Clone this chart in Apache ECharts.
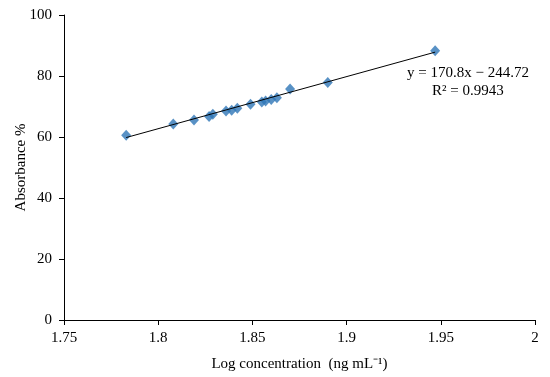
<!DOCTYPE html>
<html>
<head>
<meta charset="utf-8">
<script src="https://cdn.jsdelivr.net/npm/echarts@6/dist/echarts.min.js"></script>
<style>html,body{margin:0;padding:0;background:#fff}#c{width:550px;height:377px}</style>
</head>
<body>
<div id="c"></div>
<script>
var logConc = [1.783, 1.808, 1.819, 1.827, 1.829, 1.836, 1.839, 1.842, 1.849, 1.855, 1.857, 1.860, 1.863, 1.870, 1.890, 1.947];
var absorbance = [60.6, 64.3, 65.6, 66.7, 67.5, 68.5, 68.8, 69.4, 70.7, 71.5, 71.8, 72.3, 72.9, 75.7, 77.9, 88.3];
var slope = 170.8, intercept = -244.72, r2 = 0.9943;
var xTicks = [1.75, 1.8, 1.85, 1.9, 1.95, 2];
var yTicks = [0, 20, 40, 60, 80, 100];

var x0 = Math.min.apply(null, logConc), x1 = Math.max.apply(null, logConc);
var trend = [[x0, slope * x0 + intercept], [x1, slope * x1 + intercept]];
var pts = logConc.map(function (x, i) { return [x, absorbance[i]]; });

var font = '"Liberation Serif","Times New Roman",serif';
var chart = echarts.init(document.getElementById('c'));
chart.setOption({
  animation: false,
  backgroundColor: '#fff',
  grid: { left: 64, right: 15, top: 15, bottom: 57, containLabel: false, outerBoundsMode: 'none' },
  xAxis: {
    type: 'value', min: xTicks[0], max: xTicks[xTicks.length - 1], interval: 0.05,
    name: 'Log concentration  (ng mL\u207B\u00B9)', nameLocation: 'middle', nameGap: 37,
    nameMoveOverlap: false,
    nameTextStyle: { fontFamily: font, fontSize: 15, color: '#000' },
    axisLine: { show: true, lineStyle: { color: '#000', width: 1 } },
    axisTick: { show: true, length: 5, lineStyle: { color: '#000' } },
    axisLabel: { fontFamily: font, fontSize: 15, color: '#000', margin: 11,
      formatter: function (v) { return String(+v.toFixed(2)); } },
    splitLine: { show: false }
  },
  yAxis: {
    type: 'value', min: yTicks[0], max: yTicks[yTicks.length - 1], interval: 20,
    name: 'Absorbance %', nameLocation: 'middle', nameGap: 35, nameRotate: 90,
    nameMoveOverlap: false,
    nameTextStyle: { fontFamily: font, fontSize: 15, color: '#000' },
    axisLine: { show: true, lineStyle: { color: '#000', width: 1 } },
    axisTick: { show: true, length: 5, lineStyle: { color: '#000' } },
    axisLabel: { fontFamily: font, fontSize: 15, color: '#000', margin: 12 },
    splitLine: { show: false }
  },
  series: [
    {
      type: 'line', data: trend, symbol: 'none', silent: true,
      lineStyle: { color: '#000', width: 1 }, z: 3
    },
    {
      type: 'scatter', data: pts, symbol: 'diamond', symbolSize: [10, 11],
      itemStyle: { color: '#2E75B6' }, z: 2
    }
  ],
  graphic: [
    { type: 'text', left: 407, top: 66,
      style: { text: 'y = ' + slope + 'x \u2212 ' + (-intercept).toFixed(2), font: '15px ' + font, fill: '#000' } },
    { type: 'text', left: 432, top: 84,
      style: { text: 'R\u00B2 = ' + r2, font: '15px ' + font, fill: '#000' } }
  ]
});
</script>
</body>
</html>
